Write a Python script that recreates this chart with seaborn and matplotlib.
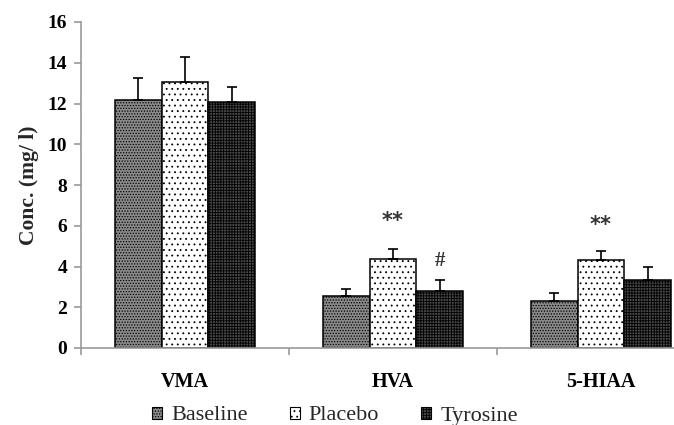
import matplotlib
matplotlib.use("Agg")
import matplotlib.pyplot as plt
import seaborn as sns
import pandas as pd
import numpy as np
from matplotlib.patches import Patch

# ---- data ----
categories = ["VMA", "HVA", "5-HIAA"]
groups = ["Baseline", "Placebo", "Tyrosine"]
baseline = [12.15, 2.55, 2.3]
placebo = [13.05, 4.37, 4.3]
tyrosine = [12.05, 2.8, 3.33]
baseline_err = [1.1, 0.33, 0.4]
placebo_err = [1.25, 0.48, 0.45]
tyrosine_err = [0.75, 0.52, 0.65]
annotations = [("**", 1, "Placebo", 6.25), ("#", 1, "Tyrosine", 4.25), ("**", 2, "Placebo", 6.05)]
y_ticks = [0, 2, 4, 6, 8, 10, 12, 14, 16]

values = {"Baseline": baseline, "Placebo": placebo, "Tyrosine": tyrosine}
errors = {"Baseline": baseline_err, "Placebo": placebo_err, "Tyrosine": tyrosine_err}

rows = []
for g in groups:
    for c, v in zip(categories, values[g]):
        rows.append({"cat": c, "group": g, "val": v})
df = pd.DataFrame(rows)

sns.set_theme(style="white")
plt.rcParams["font.family"] = ["Liberation Serif", "DejaVu Serif"]
plt.rcParams["hatch.linewidth"] = 0.6

W, H = 674, 425
fig = plt.figure(figsize=(W / 100, H / 100), dpi=100)
left_px, right_px, top_px, bottom_px = 81, 674, 22, 348
ax = fig.add_axes([left_px / W, 1 - bottom_px / H, (right_px - left_px) / W, (bottom_px - top_px) / H])

face = {"Baseline": "#8a8a8a", "Placebo": "white", "Tyrosine": "#4a4a4a"}
hatch = {"Baseline": "......", "Placebo": "...", "Tyrosine": "++++++"}

sns.barplot(data=df, x="cat", y="val", hue="group", order=categories, hue_order=groups,
            palette=[face[g] for g in groups], width=0.673, errorbar=None, legend=False,
            edgecolor="black", linewidth=1.1, ax=ax, saturation=1)

for g, cont in zip(groups, ax.containers):
    xs, ys = [], []
    for p in cont.patches:
        p.set_hatch(hatch[g])
        p.set_edgecolor("black")
        xs.append(p.get_x() + p.get_width() / 2)
        ys.append(p.get_height())
    err = errors[g]
    ax.errorbar(xs, ys, yerr=[np.zeros(len(err)), err], fmt="none", ecolor="black",
                elinewidth=1.2, capsize=3.6, capthick=1.2, zorder=1)

# annotations
centers = {}
for g, cont in zip(groups, ax.containers):
    centers[g] = [p.get_x() + p.get_width() / 2 for p in cont.patches]
for txt, ci, g, yv in annotations:
    ax.text(centers[g][ci], yv, txt, ha="center", va="center", fontsize=15,
            fontweight="bold", color="#333333", family="DejaVu Sans" if txt == "**" else None)

ax.set_ylim(0, 16)
ax.set_xlim(-0.5, -0.5 + (right_px - left_px) / 208.0)
ax.set_yticks(y_ticks)
ax.set_yticklabels([str(t) for t in y_ticks], fontsize=14, fontweight="bold")
ax.set_xticks(range(len(categories)))
ax.set_xticklabels(categories, fontsize=14.5, fontweight="bold")
ax.set_xticks([-0.5, 0.5, 1.5], minor=True)
ax.tick_params(axis="x", which="both", bottom=True)
ax.tick_params(axis="y", which="both", left=True)
ax.tick_params(axis="x", which="major", length=0, pad=17, colors="black")
ax.tick_params(axis="x", which="minor", length=5, width=1.2, color="#999999", direction="out")
ax.tick_params(axis="y", length=5, width=1.2, color="#999999", direction="out", pad=5, labelcolor="black")
ax.set_xlabel("")
ax.set_ylabel("Conc. (mg/ l)", fontsize=15.5, fontweight="bold", labelpad=6)

for s in ["top", "right"]:
    ax.spines[s].set_visible(False)
for s in ["left", "bottom"]:
    ax.spines[s].set_color("#999999")
    ax.spines[s].set_linewidth(1.2)

handles = [Patch(facecolor=face[g], edgecolor="black", hatch=hatch[g], linewidth=0.8) for g in groups]
fig.legend(handles, groups, loc="center", bbox_to_anchor=(335 / W, 1 - 416 / H), ncol=3,
           frameon=False, fontsize=16, handlelength=0.45, handleheight=0.45,
           handletextpad=0.4, columnspacing=1.9)

fig.savefig("out.png", dpi=100)
